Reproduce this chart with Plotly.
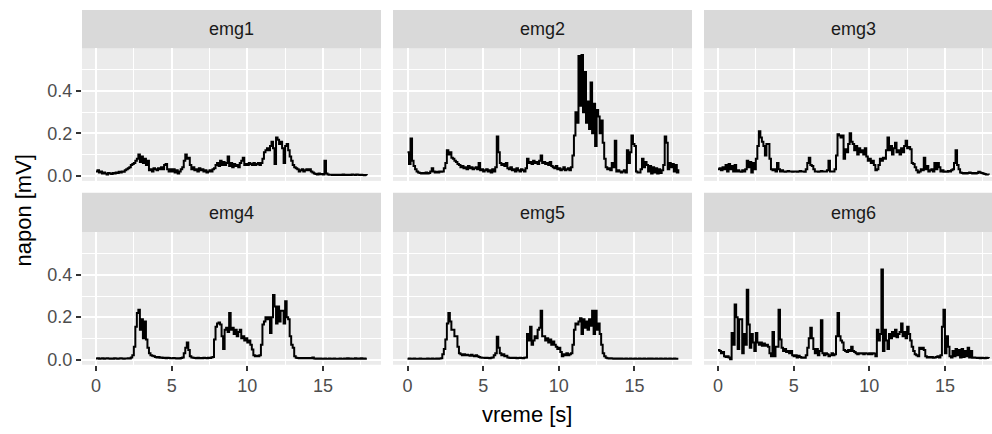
import numpy as np
import plotly.graph_objects as go

# sampling times (s)
time_s = np.round(np.arange(180) * 0.1, 1)

panel_names = ["emg1", "emg2", "emg3", "emg4", "emg5", "emg6"]
x_tick_vals = [0, 5, 10, 15]
x_tick_text = ["0", "5", "10", "15"]
x_minor_vals = [2.5, 7.5, 12.5, 17.5]
y_tick_vals = [0.0, 0.2, 0.4]
y_tick_text = ["0.0", "0.2", "0.4"]
y_minor_vals = [0.1, 0.3, 0.5]

emg1 = [
    0.020, 0.025, 0.015, 0.020, 0.010, 0.015, 0.010, 0.005, 0.012, 0.010,
    0.008, 0.012, 0.010, 0.015, 0.012, 0.018, 0.015, 0.020, 0.018, 0.025,
    0.030, 0.035, 0.040, 0.050, 0.055, 0.060, 0.070, 0.080, 0.100, 0.065,
    0.090, 0.060, 0.080, 0.050, 0.070, 0.025, 0.030, 0.020, 0.035, 0.030,
    0.025, 0.035, 0.030, 0.040, 0.030, 0.050, 0.055, 0.030, 0.020, 0.030,
    0.020, 0.030, 0.015, 0.025, 0.010, 0.020, 0.030, 0.040, 0.070, 0.100,
    0.080, 0.085, 0.050, 0.030, 0.040, 0.025, 0.030, 0.020, 0.035, 0.025,
    0.030, 0.020, 0.025, 0.015, 0.020, 0.025, 0.020, 0.030, 0.035, 0.050,
    0.060, 0.045, 0.070, 0.050, 0.065, 0.050, 0.060, 0.090, 0.045, 0.060,
    0.040, 0.055, 0.045, 0.050, 0.040, 0.060, 0.070, 0.085, 0.050, 0.055,
    0.050, 0.060, 0.055, 0.050, 0.060, 0.050, 0.055, 0.060, 0.050, 0.060,
    0.080, 0.110, 0.120, 0.130, 0.120, 0.140, 0.160, 0.130, 0.055, 0.180,
    0.170, 0.150, 0.160, 0.130, 0.060, 0.140, 0.150, 0.120, 0.090, 0.070,
    0.050, 0.040, 0.035, 0.030, 0.020, 0.025, 0.030, 0.020, 0.025, 0.030,
    0.025, 0.030, 0.020, 0.015, 0.010, 0.008, 0.006, 0.010, 0.007, 0.008,
    0.005, 0.070, 0.010, 0.005, 0.004, 0.004, 0.003, 0.004, 0.003, 0.004,
    0.003, 0.004, 0.003, 0.005, 0.003, 0.004, 0.003, 0.004, 0.003, 0.005,
    0.004, 0.003, 0.006, 0.004, 0.003, 0.004, 0.003, 0.002, 0.003, 0.002,
]

emg2 = [
    0.110, 0.055, 0.175, 0.070, 0.045, 0.030, 0.020, 0.015, 0.012, 0.010,
    0.012, 0.010, 0.015, 0.010, 0.012, 0.020, 0.035, 0.020, 0.015, 0.018,
    0.015, 0.020, 0.018, 0.020, 0.035, 0.060, 0.120, 0.100, 0.110, 0.085,
    0.080, 0.070, 0.065, 0.055, 0.050, 0.040, 0.045, 0.035, 0.040, 0.030,
    0.045, 0.035, 0.040, 0.030, 0.035, 0.040, 0.030, 0.060, 0.025, 0.030,
    0.020, 0.025, 0.030, 0.020, 0.025, 0.015, 0.030, 0.020, 0.040, 0.185,
    0.110, 0.060, 0.050, 0.055, 0.045, 0.060, 0.035, 0.030, 0.040, 0.025,
    0.030, 0.020, 0.035, 0.025, 0.020, 0.030, 0.025, 0.020, 0.035, 0.080,
    0.060, 0.065, 0.055, 0.070, 0.060, 0.065, 0.055, 0.070, 0.095, 0.060,
    0.065, 0.055, 0.060, 0.050, 0.065, 0.045, 0.040, 0.035, 0.045, 0.030,
    0.035, 0.025, 0.030, 0.040, 0.025, 0.030, 0.035, 0.025, 0.040, 0.095,
    0.190, 0.300, 0.250, 0.565, 0.330, 0.570, 0.300, 0.490, 0.250, 0.350,
    0.220, 0.440, 0.200, 0.340, 0.140, 0.310, 0.280, 0.200, 0.260, 0.155,
    0.080, 0.040, 0.030, 0.035, 0.025, 0.060, 0.040, 0.165, 0.020, 0.025,
    0.020, 0.015, 0.020, 0.025, 0.015, 0.120, 0.060, 0.110, 0.190, 0.150,
    0.140, 0.020, 0.015, 0.015, 0.030, 0.080, 0.040, 0.065, 0.050, 0.020,
    0.045, 0.010, 0.040, 0.015, 0.035, 0.010, 0.030, 0.012, 0.025, 0.050,
    0.185, 0.155, 0.030, 0.060, 0.040, 0.055, 0.020, 0.050, 0.015, 0.030,
]

emg3 = [
    0.030, 0.035, 0.025, 0.040, 0.030, 0.050, 0.020, 0.055, 0.030, 0.045,
    0.020, 0.050, 0.020, 0.025, 0.020, 0.018, 0.025, 0.020, 0.030, 0.070,
    0.040, 0.065, 0.015, 0.060, 0.030, 0.080, 0.140, 0.210, 0.180, 0.160,
    0.140, 0.095, 0.150, 0.150, 0.080, 0.030, 0.025, 0.030, 0.020, 0.060,
    0.030, 0.020, 0.025, 0.020, 0.018, 0.020, 0.022, 0.020, 0.020, 0.018,
    0.020, 0.020, 0.018, 0.020, 0.022, 0.020, 0.020, 0.018, 0.030, 0.060,
    0.085, 0.050, 0.045, 0.030, 0.020, 0.020, 0.018, 0.020, 0.022, 0.020,
    0.020, 0.020, 0.025, 0.070, 0.020, 0.020, 0.020, 0.030, 0.095, 0.195,
    0.190, 0.180, 0.190, 0.080, 0.125, 0.110, 0.150, 0.200, 0.160, 0.150,
    0.120, 0.140, 0.100, 0.130, 0.110, 0.120, 0.100, 0.130, 0.090, 0.070,
    0.080, 0.060, 0.070, 0.050, 0.025, 0.030, 0.050, 0.080, 0.070, 0.085,
    0.080, 0.120, 0.180, 0.120, 0.140, 0.100, 0.130, 0.155, 0.110, 0.120,
    0.100, 0.130, 0.110, 0.140, 0.165, 0.130, 0.135, 0.125, 0.060, 0.055,
    0.040, 0.025, 0.015, 0.020, 0.030, 0.025, 0.085, 0.030, 0.045, 0.020,
    0.025, 0.030, 0.020, 0.060, 0.030, 0.060, 0.040, 0.020, 0.025, 0.018,
    0.020, 0.018, 0.022, 0.020, 0.025, 0.030, 0.060, 0.120, 0.050, 0.030,
    0.015, 0.012, 0.010, 0.012, 0.010, 0.012, 0.015, 0.012, 0.010, 0.012,
    0.010, 0.012, 0.018, 0.015, 0.012, 0.010, 0.008, 0.006, 0.005, 0.004,
]

emg4 = [
    0.005, 0.006, 0.004, 0.005, 0.006, 0.004, 0.005, 0.006, 0.005, 0.004,
    0.005, 0.004, 0.006, 0.005, 0.004, 0.005, 0.006, 0.005, 0.004, 0.005,
    0.005, 0.006, 0.005, 0.010, 0.020, 0.060, 0.155, 0.220, 0.235, 0.140,
    0.190, 0.100, 0.180, 0.095, 0.055, 0.030, 0.020, 0.018, 0.015, 0.012,
    0.010, 0.012, 0.008, 0.010, 0.007, 0.008, 0.006, 0.008, 0.007, 0.006,
    0.006, 0.007, 0.006, 0.005, 0.006, 0.005, 0.007, 0.010, 0.030, 0.055,
    0.080, 0.045, 0.015, 0.010, 0.008, 0.007, 0.006, 0.008, 0.006, 0.007,
    0.006, 0.008, 0.007, 0.006, 0.008, 0.007, 0.010, 0.012, 0.095, 0.155,
    0.170, 0.175, 0.165, 0.110, 0.050, 0.140, 0.150, 0.130, 0.220, 0.140,
    0.150, 0.120, 0.140, 0.110, 0.130, 0.140, 0.100, 0.110, 0.090, 0.100,
    0.080, 0.090, 0.070, 0.047, 0.020, 0.015, 0.018, 0.015, 0.020, 0.070,
    0.165, 0.180, 0.200, 0.190, 0.200, 0.125, 0.200, 0.305, 0.250, 0.170,
    0.250, 0.180, 0.230, 0.230, 0.170, 0.275, 0.200, 0.190, 0.110, 0.070,
    0.055, 0.015, 0.008, 0.007, 0.006, 0.007, 0.006, 0.007, 0.006, 0.007,
    0.006, 0.007, 0.006, 0.010, 0.005, 0.004, 0.005, 0.004, 0.005, 0.004,
    0.004, 0.005, 0.004, 0.004, 0.005, 0.004, 0.004, 0.005, 0.004, 0.004,
    0.004, 0.005, 0.004, 0.004, 0.005, 0.004, 0.006, 0.004, 0.005, 0.004,
    0.004, 0.006, 0.004, 0.005, 0.004, 0.006, 0.004, 0.005, 0.004, 0.004,
]

emg5 = [
    0.004, 0.005, 0.004, 0.004, 0.005, 0.004, 0.003, 0.004, 0.005, 0.004,
    0.004, 0.003, 0.004, 0.005, 0.004, 0.004, 0.005, 0.004, 0.004, 0.005,
    0.004, 0.005, 0.006, 0.025, 0.050, 0.095, 0.170, 0.220, 0.180, 0.140,
    0.140, 0.110, 0.110, 0.060, 0.030, 0.025, 0.020, 0.025, 0.020, 0.022,
    0.020, 0.018, 0.022, 0.018, 0.015, 0.020, 0.015, 0.012, 0.010, 0.008,
    0.008, 0.007, 0.008, 0.007, 0.006, 0.008, 0.010, 0.020, 0.030, 0.107,
    0.055, 0.030, 0.020, 0.025, 0.015, 0.018, 0.010, 0.008, 0.007, 0.008,
    0.007, 0.008, 0.006, 0.007, 0.008, 0.007, 0.006, 0.008, 0.010, 0.120,
    0.090, 0.155, 0.070, 0.090, 0.110, 0.100, 0.140, 0.150, 0.230, 0.110,
    0.110, 0.090, 0.100, 0.080, 0.095, 0.070, 0.085, 0.070, 0.060, 0.050,
    0.055, 0.035, 0.015, 0.025, 0.020, 0.030, 0.020, 0.025, 0.030, 0.070,
    0.140, 0.170, 0.165, 0.180, 0.195, 0.120, 0.190, 0.150, 0.180, 0.140,
    0.190, 0.160, 0.230, 0.120, 0.230, 0.140, 0.170, 0.120, 0.070, 0.030,
    0.015, 0.008, 0.006, 0.005, 0.006, 0.005, 0.004, 0.005, 0.004, 0.005,
    0.004, 0.005, 0.004, 0.004, 0.005, 0.004, 0.004, 0.005, 0.004, 0.004,
    0.005, 0.004, 0.004, 0.005, 0.004, 0.004, 0.005, 0.004, 0.004, 0.005,
    0.004, 0.005, 0.004, 0.004, 0.005, 0.004, 0.004, 0.005, 0.004, 0.004,
    0.005, 0.004, 0.004, 0.005, 0.004, 0.004, 0.005, 0.004, 0.004, 0.004,
]

emg6 = [
    0.045, 0.040, 0.030, 0.035, 0.015, 0.012, 0.015, 0.010, 0.001, 0.125,
    0.070, 0.260, 0.200, 0.050, 0.190, 0.190, 0.030, 0.120, 0.070, 0.330,
    0.165, 0.055, 0.120, 0.080, 0.040, 0.125, 0.080, 0.070, 0.080, 0.065,
    0.075, 0.065, 0.070, 0.060, 0.030, 0.015, 0.130, 0.015, 0.060, 0.060,
    0.235, 0.095, 0.055, 0.040, 0.050, 0.035, 0.040, 0.030, 0.040, 0.020,
    0.015, 0.020, 0.010, 0.018, 0.012, 0.008, 0.010, 0.008, 0.020, 0.055,
    0.100, 0.150, 0.100, 0.050, 0.030, 0.050, 0.020, 0.040, 0.185, 0.030,
    0.020, 0.030, 0.025, 0.015, 0.020, 0.030, 0.020, 0.025, 0.110, 0.220,
    0.110, 0.090, 0.080, 0.045, 0.040, 0.035, 0.045, 0.040, 0.060, 0.040,
    0.035, 0.030, 0.025, 0.030, 0.028, 0.030, 0.025, 0.030, 0.028, 0.025,
    0.030, 0.025, 0.030, 0.028, 0.015, 0.140, 0.090, 0.120, 0.425, 0.040,
    0.140, 0.090, 0.050, 0.120, 0.100, 0.130, 0.110, 0.140, 0.105, 0.120,
    0.130, 0.170, 0.110, 0.130, 0.100, 0.155, 0.120, 0.090, 0.060, 0.040,
    0.025, 0.020, 0.015, 0.055, 0.050, 0.055, 0.045, 0.015, 0.010, 0.012,
    0.010, 0.012, 0.008, 0.010, 0.012, 0.015, 0.010, 0.020, 0.155, 0.235,
    0.030, 0.110, 0.060, 0.015, 0.010, 0.040, 0.015, 0.050, 0.020, 0.045,
    0.010, 0.050, 0.012, 0.040, 0.015, 0.055, 0.010, 0.040, 0.008, 0.010,
    0.008, 0.007, 0.008, 0.006, 0.008, 0.007, 0.006, 0.008, 0.007, 0.006,
]

series = [emg1, emg2, emg3, emg4, emg5, emg6]

# ---- layout geometry (pixels) ----
W, H = 992, 434
COLS = [(82, 381, 96.0), (393, 692, 407.5), (704, 992, 718.0)]  # left, right, px of t=0
ROWS = [(49, 183), (235, 369)]
STRIPS = [(10, 49), (195, 235)]
PX_PER_S = 15.13
Y_RANGE = [-0.0248, 0.601]


def px_x(p):
    return p / W


def px_y(p):
    return 1 - p / H


FONT = "Liberation Sans, Arial, sans-serif"
fig = go.Figure()
layout = dict(
    width=W, height=H,
    margin=dict(l=0, r=0, t=0, b=0),
    paper_bgcolor="white",
    plot_bgcolor="#EBEBEB",
    showlegend=False,
    font=dict(family=FONT),
)
shapes = []
annotations = []

for i, (name, vals) in enumerate(zip(panel_names, series)):
    r, c = divmod(i, 3)
    L, R, x0 = COLS[c]
    T, B = ROWS[r]
    idx = "" if i == 0 else str(i + 1)
    xr = [(L - x0) / PX_PER_S, (R - x0) / PX_PER_S]
    bottom = r == 1
    left = c == 0
    layout["xaxis" + idx] = dict(
        domain=[px_x(L), px_x(R)], range=xr, anchor="y" + idx,
        tickmode="array", tickvals=x_tick_vals, ticktext=x_tick_text,
        showticklabels=bottom, ticks="outside" if bottom else "",
        ticklen=5, tickwidth=2, tickcolor="#333333",
        tickfont=dict(size=18, color="#4D4D4D", family=FONT),
        showgrid=True, gridcolor="white", gridwidth=2.1,
        minor=dict(tickvals=x_minor_vals, showgrid=True, gridcolor="white", gridwidth=1.1),
        zeroline=False, showline=False, fixedrange=True,
    )
    layout["yaxis" + idx] = dict(
        domain=[px_y(B), px_y(T)], range=Y_RANGE, anchor="x" + idx,
        tickmode="array", tickvals=y_tick_vals, ticktext=y_tick_text,
        showticklabels=left, ticks="outside" if left else "",
        ticklen=5, tickwidth=2, tickcolor="#333333",
        tickfont=dict(size=18, color="#4D4D4D", family=FONT),
        showgrid=True, gridcolor="white", gridwidth=2.1,
        minor=dict(tickvals=y_minor_vals, showgrid=True, gridcolor="white", gridwidth=1.1),
        zeroline=False, showline=False, fixedrange=True,
    )
    fig.add_trace(go.Scatter(
        x=time_s, y=vals, mode="lines",
        line=dict(color="black", width=2, shape="hv"),
        xaxis="x" + idx, yaxis="y" + idx, hoverinfo="skip",
    ))
    sT, sB = STRIPS[r]
    shapes.append(dict(
        type="rect", xref="paper", yref="paper",
        x0=px_x(L), x1=px_x(R), y0=px_y(sB), y1=px_y(sT),
        fillcolor="#D9D9D9", line=dict(width=0), layer="below",
    ))
    center = x0 + (((L - x0) / PX_PER_S) + 18.83) / 2 * PX_PER_S
    annotations.append(dict(
        text=name, xref="paper", yref="paper",
        x=px_x(center), y=px_y((sT + sB) / 2),
        xanchor="center", yanchor="middle", showarrow=False,
        font=dict(size=18, color="#1A1A1A", family=FONT),
    ))

annotations.append(dict(
    text="napon [mV]", xref="paper", yref="paper",
    x=px_x(24), y=px_y(213), textangle=-90,
    xanchor="center", yanchor="middle", showarrow=False,
    font=dict(size=22, color="black", family=FONT),
))
annotations.append(dict(
    text="vreme [s]", xref="paper", yref="paper",
    x=px_x(527), y=px_y(419),
    xanchor="center", yanchor="middle", showarrow=False,
    font=dict(size=22, color="black", family=FONT),
))

layout["shapes"] = shapes
layout["annotations"] = annotations
fig.update_layout(**layout)
fig.write_html(
    "out.html",
    config={"displayModeBar": False},
    post_script="document.body.style.margin='0';document.body.style.overflow='hidden';",
)
